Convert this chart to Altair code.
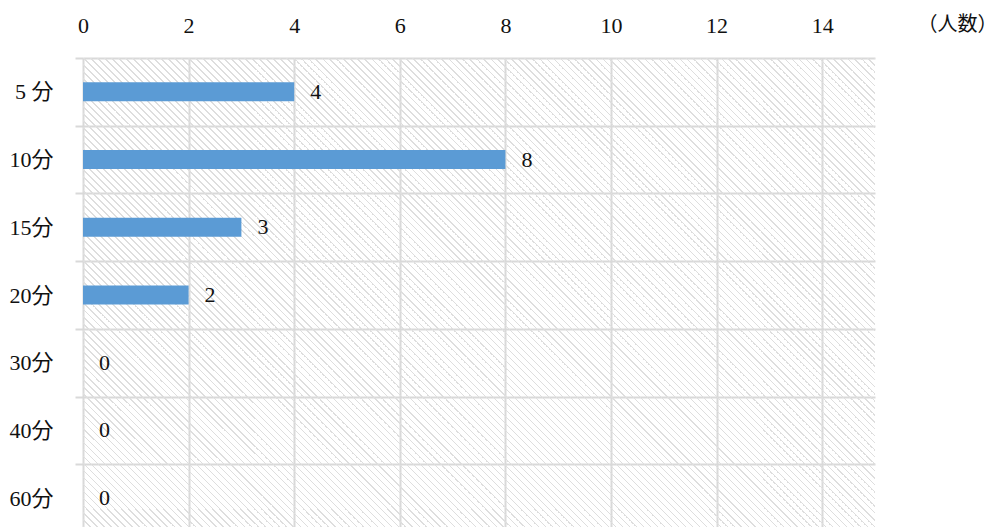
import altair as alt
import pandas as pd

# Survey answers: time spent vs. number of respondents
categories = ["5 分", "10分", "15分", "20分", "30分", "40分", "60分"]
counts = [4, 8, 3, 2, 0, 0, 0]
x_ticks = [0, 2, 4, 6, 8, 10, 12, 14]
x_max = 15
unit_label = "（人数）"

df = pd.DataFrame({"time": categories, "count": counts})

W, H = 792, 469          # plot area
BAND_RANGE = 474         # 7 rows of ~67.7 px (last row runs past the bottom edge)
FONT = "Liberation Serif, Noto Sans CJK JP"
FONT_SIZE = 22
GRID = "#d9d9d9"
TEXT = "#111111"

# Diagonal hatch of the plot background, built as a striped linear gradient
period = 7.0   # horizontal spacing of the stripes, px
stripe = 1.9   # horizontal width of one stripe, px
span = W + H
clear = "rgba(222,222,222,0)"
ink = "#dedede"
stops = []
pos = 0.0
while pos < span:
    a = pos / span
    b = min((pos + stripe) / span, 1.0)
    stops += [
        alt.GradientStop(offset=a, color=clear),
        alt.GradientStop(offset=a, color=ink),
        alt.GradientStop(offset=b, color=ink),
        alt.GradientStop(offset=b, color=clear),
    ]
    pos += period
stops.append(alt.GradientStop(offset=1.0, color=clear))

s = span / (W * W + H * H)
hatch_fill = alt.LinearGradient(
    gradient="linear", stops=stops, x1=0, y1=1, x2=s * W, y2=1 - s * H
)

x_scale = alt.Scale(domain=[0, x_max], nice=False, zero=True)
y_scale = alt.Scale(domain=categories, range=[0, BAND_RANGE], paddingInner=0, paddingOuter=0)

x_axis = alt.Axis(
    orient="top",
    values=x_ticks,
    grid=True,
    gridColor=GRID,
    gridWidth=2,
    ticks=False,
    tickSize=0,
    domain=False,
    labelFlush=False,
    labelFont=FONT,
    labelFontSize=FONT_SIZE,
    labelColor=TEXT,
    labelPadding=21,
    title=unit_label,
    titleFont="Noto Sans CJK JP",
    titleFontSize=20,
    titleFontWeight="normal",
    titleColor=TEXT,
    titleX=874,
    titleY=-34,
    titleAlign="center",
    titleBaseline="middle",
    titleAngle=0,
)

y_axis = alt.Axis(
    tickBand="extent",
    grid=True,
    gridColor=GRID,
    gridWidth=2,
    ticks=True,
    tickSize=8,
    tickColor=GRID,
    tickWidth=2,
    domain=False,
    labelFont=FONT,
    labelFontSize=FONT_SIZE,
    labelColor=TEXT,
    labelPadding=22,
    title=None,
)

hatch = alt.Chart(df).mark_rect(fill=hatch_fill, strokeWidth=0).encode(
    x=alt.datum(0, scale=x_scale),
    x2=alt.datum(x_max),
)

bars = alt.Chart(df).mark_bar(size=19, color="#5b9bd5").encode(
    x=alt.X("count:Q", scale=x_scale, axis=x_axis),
    y=alt.Y("time:N", sort=categories, scale=y_scale, axis=y_axis),
)

labels = alt.Chart(df).mark_text(
    align="left", baseline="middle", dx=16, font=FONT, fontSize=FONT_SIZE, color=TEXT
).encode(
    x=alt.X("count:Q", scale=x_scale),
    y=alt.Y("time:N", sort=categories, scale=y_scale),
    text="count:Q",
)

chart = (
    alt.layer(hatch, bars, labels)
    .properties(
        width=W,
        height=H,
        background="white",
        padding={"left": 83, "top": 58, "right": 121, "bottom": 0},
        autosize=alt.AutoSizeParams(type="none"),
    )
    .configure_view(stroke=None)
)

chart.save("out.html", embed_options={"renderer": "svg", "actions": False})
